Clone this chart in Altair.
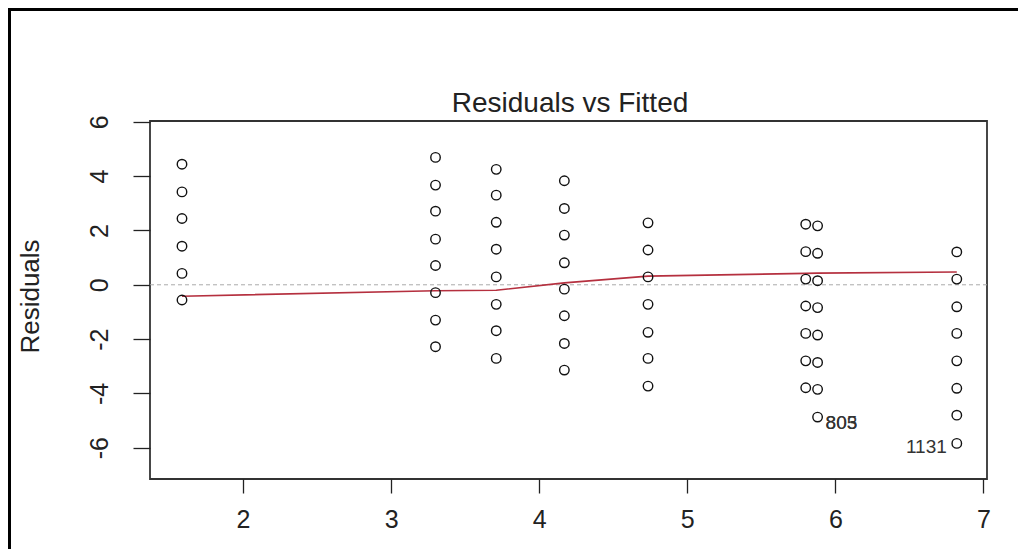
import altair as alt
import pandas as pd

# ---- data ----
fitted_cols = [1.588, 3.30, 3.71, 4.17, 4.735, 5.80, 5.88, 6.82]
resid_cols = [
    [4.44, 3.42, 2.44, 1.42, 0.42, -0.56],
    [4.69, 3.67, 2.71, 1.68, 0.71, -0.29, -1.30, -2.28],
    [4.25, 3.30, 2.30, 1.31, 0.29, -0.72, -1.69, -2.71],
    [3.83, 2.81, 1.83, 0.81, -0.16, -1.14, -2.16, -3.14],
    [2.28, 1.28, 0.29, -0.72, -1.75, -2.71, -3.73],
    [2.23, 1.22, 0.21, -0.78, -1.79, -2.80, -3.79],
    [2.17, 1.16, 0.15, -0.84, -1.85, -2.86, -3.85, -4.87],
    [1.21, 0.21, -0.81, -1.79, -2.80, -3.81, -4.80, -5.84],
]
smooth_x = [1.588, 3.30, 3.71, 4.17, 4.735, 5.80, 5.88, 6.82]
smooth_y = [-0.42, -0.22, -0.20, 0.07, 0.32, 0.42, 0.43, 0.47]
label_x = [5.88, 5.88, 6.82]
label_y = [-4.87, -4.87, -5.84]
label_text = ["805", "803", "1131"]
label_side = ["right", "right", "left"]
x_ticks = [2, 3, 4, 5, 6, 7]
y_ticks = [-6, -4, -2, 0, 2, 4, 6]
title_text = ["Residuals vs Fitted"]

pts = pd.DataFrame(
    [{"fitted": fx, "resid": r} for fx, rs in zip(fitted_cols, resid_cols) for r in rs]
)
smooth = pd.DataFrame({"fitted": smooth_x, "resid": smooth_y})
labels = pd.DataFrame({"fitted": label_x, "resid": label_y, "label": label_text, "side": label_side})
zero = pd.DataFrame({"resid": [0]})
title_df = pd.DataFrame({"t": title_text})

FONT = "Liberation Sans"
xscale = alt.Scale(domain=[1.372, 7.024], nice=False, zero=False)
yscale = alt.Scale(domain=[-7.15, 6.03], nice=False, zero=False)

xaxis = alt.Axis(values=x_ticks, title=None, grid=False, domain=False, tickSize=14,
                 tickColor="#222", tickWidth=1.3, labelFontSize=25, labelFont=FONT,
                 labelColor="#222", labelPadding=14, labelExpr="toString(datum.value)")
yaxis = alt.Axis(values=y_ticks, title="Residuals", grid=False, domain=False, tickSize=17,
                 tickColor="#222", tickWidth=1.3, labelFontSize=25, labelFont=FONT,
                 labelColor="#222", labelAngle=270, labelPadding=21,
                 labelExpr="toString(datum.value)",
                 titleFontSize=26, titleFont=FONT, titleFontWeight="normal",
                 titleColor="#222", titleX=-120, titleY=175, titleBaseline="middle")

points = alt.Chart(pts).mark_point(shape="circle", filled=False, size=90,
                                   stroke="#111", strokeWidth=1.4, opacity=1).encode(
    x=alt.X("fitted:Q", scale=xscale, axis=xaxis),
    y=alt.Y("resid:Q", scale=yscale, axis=yaxis),
)

zline = alt.Chart(zero).mark_rule(color="#aaaaaa", strokeDash=[4, 3], strokeWidth=1).encode(
    y=alt.Y("resid:Q", scale=yscale)
)

line = alt.Chart(smooth).mark_line(color="#b5303f", strokeWidth=1.6).encode(
    x=alt.X("fitted:Q", scale=xscale),
    y=alt.Y("resid:Q", scale=yscale),
)

txt_right = alt.Chart(labels).transform_filter(alt.datum.side == "right").mark_text(
    align="left", baseline="middle", dx=8, dy=6, fontSize=19, font=FONT, color="#333"
).encode(x=alt.X("fitted:Q", scale=xscale), y=alt.Y("resid:Q", scale=yscale), text="label:N")

txt_left = alt.Chart(labels).transform_filter(alt.datum.side == "left").mark_text(
    align="right", baseline="middle", dx=-10, dy=4, fontSize=19, font=FONT, color="#333"
).encode(x=alt.X("fitted:Q", scale=xscale), y=alt.Y("resid:Q", scale=yscale), text="label:N")

title = alt.Chart(title_df).mark_text(
    align="center", baseline="alphabetic", fontSize=28, font=FONT, color="#222"
).encode(x=alt.value(420), y=alt.value(-9), text="t:N")

# outer black frame of the screenshot (decoration)
frame_top = alt.Chart(zero).mark_rule(color="black", strokeWidth=3).encode(
    x=alt.value(-142), x2=alt.value(876), y=alt.value(-111.5)
)
frame_left = alt.Chart(zero).mark_rule(color="black", strokeWidth=3).encode(
    x=alt.value(-140.5), y=alt.value(-113), y2=alt.value(430)
)

chart = alt.layer(zline, line, points, txt_right, txt_left, title, frame_top, frame_left).properties(
    width=837,
    height=358,
    autosize=alt.AutoSizeParams(type="none"),
    padding={"left": 142, "top": 113, "right": 31, "bottom": 70},
).configure(background="white").configure_view(stroke="#333", strokeWidth=1.8)

chart.save("out.html", embed_options={"renderer": "svg", "actions": False})
